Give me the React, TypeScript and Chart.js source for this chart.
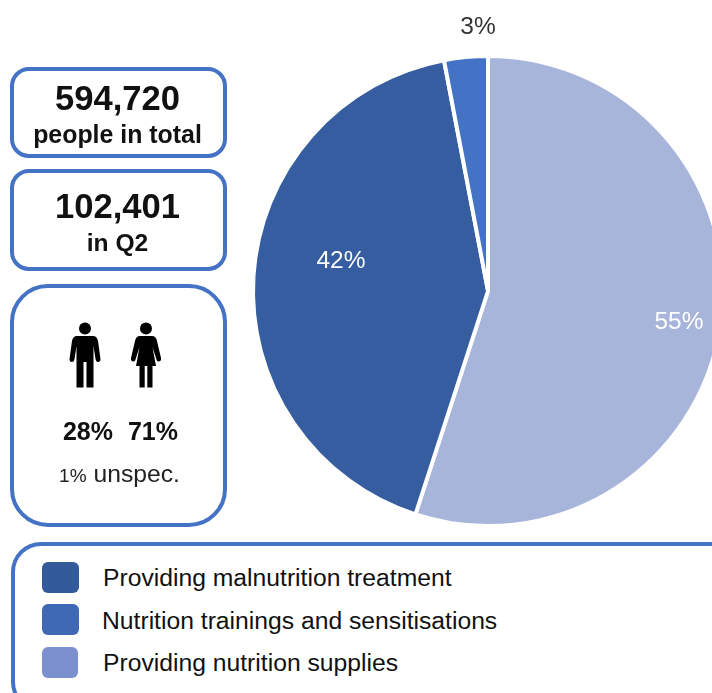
import React, { useEffect, useRef } from "react";
import { Chart, registerables } from "chart.js";

Chart.register(...registerables);

const sliceLabels = ["Providing nutrition supplies", "Providing malnutrition treatment", "Nutrition trainings and sensitisations"];
const sliceValues = [55, 42, 3];
const sliceColors = ["#A7B5DB", "#355DA0", "#4472C4"];
const legendLabels = ["Providing malnutrition treatment", "Nutrition trainings and sensitisations", "Providing nutrition supplies"];
const legendColors = ["#335A9B", "#3F69B5", "#7C90CF"];
const totalValue = "594,720";
const totalCaption = "people in total";
const quarterValue = "102,401";
const quarterCaption = "in Q2";
const malePct = "28%";
const femalePct = "71%";
const unspecPct = "1%";

const FONT = '"Liberation Sans", Arial, sans-serif';
const BLUE = "#4472C4";

const labelOffsets = [
  { dx: 191, dy: 31, color: "#ffffff" },
  { dx: -147, dy: -30, color: "#ffffff" },
  { dx: -10, dy: -264, color: "#333333" },
];

const pieLabels = {
  id: "pieLabels",
  afterDatasetsDraw(chart: any) {
    const { ctx } = chart;
    const meta = chart.getDatasetMeta(0);
    ctx.save();
    ctx.font = `24.5px ${FONT}`;
    ctx.textAlign = "center";
    ctx.textBaseline = "middle";
    meta.data.forEach((arc: any, i: number) => {
      const o = labelOffsets[i];
      ctx.fillStyle = o.color;
      ctx.fillText(`${sliceValues[i]}%`, arc.x + o.dx, arc.y + o.dy);
    });
    ctx.restore();
  },
};

function box(left: number, top: number, width: number, height: number, radius: number): React.CSSProperties {
  return {
    position: "absolute",
    left,
    top,
    width,
    height,
    boxSizing: "border-box",
    border: `4px solid ${BLUE}`,
    borderRadius: radius,
    background: "#fff",
  };
}

function text(left: number, top: number, width: number, size: number, bold: boolean, align: "center" | "left" = "center"): React.CSSProperties {
  return {
    position: "absolute",
    left,
    top,
    width,
    fontSize: size,
    lineHeight: `${Math.round(size * 1.2)}px`,
    fontWeight: bold ? 700 : 400,
    textAlign: align,
    color: "#111",
    whiteSpace: "nowrap",
  };
}

const Male = ({ x, y }: { x: number; y: number }) => (
  <svg style={{ position: "absolute", left: x, top: y }} width="32" height="68" viewBox="0 0 32 68">
    <circle cx="16" cy="6.5" r="6" fill="#000" />
    <path d="M8 14 H24 Q28 14 29 19 L31.5 37 Q31.5 40 29 40 Q27 40 26.5 37 L24.5 24 V65.500 H17.500 V40 H14.500 V65.500 H7.500 V24 L5.500 37 Q5 40 3 40 Q0.500 40 0.500 37 L3 19 Q4 14 8 14 Z" fill="#000" />
  </svg>
);

const Female = ({ x, y }: { x: number; y: number }) => (
  <svg style={{ position: "absolute", left: x, top: y }} width="32" height="68" viewBox="0 0 32 68">
    <circle cx="16" cy="6.5" r="6" fill="#000" />
    <path d="M10 14 H22 Q26 14 27 19 L31 36 Q31.500 39 29 39.500 Q27 40 26.300 37 L22.500 25 L26 44 H22.500 V65.500 H17.300 V44 H14.700 V65.500 H9.500 V44 H6 L9.500 25 L5.700 37 Q5 40 3 39.500 Q0.500 39 1 36 L5 19 Q6 14 10 14 Z" fill="#000" />
  </svg>
);

export default function App() {
  const ref = useRef<HTMLCanvasElement>(null);
  useEffect(() => {
    const chart = new Chart(ref.current!, {
      type: "pie",
      data: {
        labels: sliceLabels,
        datasets: [
          {
            data: sliceValues,
            backgroundColor: sliceColors,
            borderColor: "#ffffff",
            borderWidth: 4,
          },
        ],
      },
      options: {
        responsive: false,
        animation: false,
        layout: { padding: { left: 251, right: 3, top: 54, bottom: 165 } },
        plugins: { legend: { display: false }, tooltip: { enabled: false } },
      },
      plugins: [pieLabels],
    } as any);
    return () => chart.destroy();
  }, []);

  return (
    <div style={{ position: "fixed", left: 0, top: 0, width: 712, height: 693, overflow: "hidden", background: "#fff", fontFamily: FONT }}>
      <canvas ref={ref} width={728} height={693} style={{ position: "absolute", left: 0, top: 0, width: 728, height: 693 }} />

      <div style={box(10, 67, 217, 91, 19)} />
      <div style={text(9, 77, 217, 34.6, true)}>{totalValue}</div>
      <div style={text(9, 119, 217, 24.9, true)}>{totalCaption}</div>

      <div style={box(10, 169, 217, 102, 19)} />
      <div style={text(9, 185, 217, 34.6, true)}>{quarterValue}</div>
      <div style={text(9, 228, 217, 24.6, true)}>{quarterCaption}</div>

      <div style={box(10, 284, 217, 243, 38)} />
      <Male x={69} y={322} />
      <Female x={130} y={322} />
      <div style={text(61, 416, 54, 25, true)}>{malePct}</div>
      <div style={text(126, 416, 54, 25, true)}>{femalePct}</div>
      <div style={{ ...text(11, 459, 217, 24.7, false), color: "#222" }}>
        <span style={{ fontSize: 19 }}>{unspecPct}</span> unspec.
      </div>

      <div style={box(11, 542, 740, 170, 30)} />
      {legendLabels.map((label, i) => (
        <React.Fragment key={label}>
          <div
            style={{
              position: "absolute",
              left: 42,
              top: [562, 604, 647][i],
              width: i === 2 ? 36 : 37,
              height: 31,
              borderRadius: 6,
              background: legendColors[i],
            }}
          />
          <div style={text(i === 1 ? 102 : 103, [563, 606, 648][i], 500, 24.7, false, "left")}>{label}</div>
        </React.Fragment>
      ))}
    </div>
  );
}
